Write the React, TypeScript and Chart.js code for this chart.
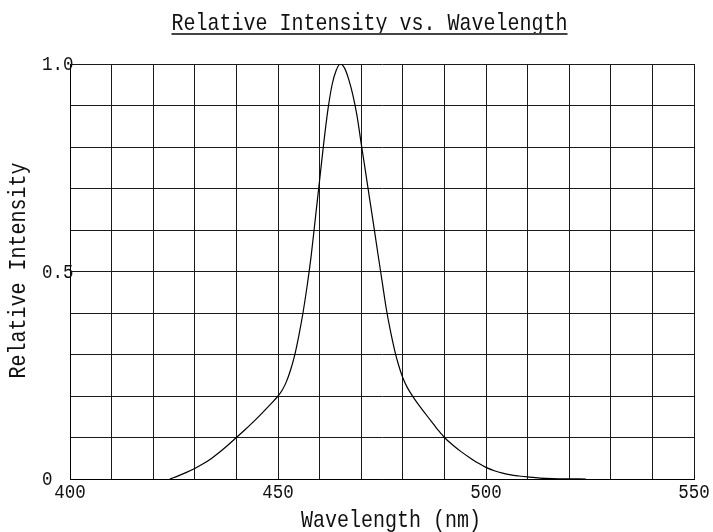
import React, { useEffect, useRef } from 'react';
import { Chart, registerables } from 'chart.js';

Chart.register(...registerables);

const chartTitle = 'Relative Intensity vs. Wavelength';
const xAxisTitle = 'Wavelength (nm)';
const yAxisTitle = 'Relative Intensity';

const wavelengths = [
  424, 426, 428, 430, 432, 434, 436, 438, 440, 442, 444, 446, 448, 450,
  451, 452, 453, 454, 455, 456, 457, 458, 459, 460, 461, 462, 463, 464, 465,
  466, 467, 468, 469, 470, 471, 472, 473, 474, 475, 476, 477, 478, 479, 480,
  481, 482, 483, 484, 485, 486, 487, 488, 489, 490,
  492, 494, 496, 498, 500, 502, 504, 506, 508, 510, 513, 516, 520, 524,
];
const intensities = [
  0, 0.0075, 0.016, 0.0255, 0.0365, 0.0495, 0.065, 0.082, 0.1, 0.118, 0.137, 0.157, 0.178, 0.2,
  0.214, 0.234, 0.262, 0.298, 0.345, 0.4, 0.465, 0.54, 0.63, 0.72, 0.81, 0.89, 0.95, 0.985, 1.0,
  0.99, 0.963, 0.925, 0.875, 0.808, 0.743, 0.677, 0.611, 0.544, 0.478, 0.412, 0.358, 0.312, 0.274, 0.244,
  0.222, 0.205, 0.19, 0.176, 0.163, 0.15, 0.137, 0.124, 0.112, 0.1,
  0.082, 0.066, 0.052, 0.039, 0.028, 0.02, 0.014, 0.0098, 0.0072, 0.005, 0.0022, 0.0008, 0.0002, 0,
];

const xTickValues = [400, 450, 500, 550];
const xTickLabels = ['400', '450', '500', '550'];
const yTickValues = [0, 0.5, 1.0];
const yTickLabels = ['0', '0.5', '1.0'];

const FONT = '"Liberation Mono", "DejaVu Sans Mono", monospace';

function drawStretched(
  ctx: CanvasRenderingContext2D,
  text: string,
  x: number,
  y: number,
  size: number,
  stretch: number,
  align: CanvasTextAlign,
) {
  ctx.save();
  ctx.translate(x, y);
  ctx.scale(1, stretch);
  ctx.font = `${size}px ${FONT}`;
  ctx.textAlign = align;
  ctx.textBaseline = 'alphabetic';
  ctx.fillText(text, 0, 0);
  ctx.restore();
}

const textPlugin = {
  id: 'customText',
  afterDraw(chart: any) {
    const ctx: CanvasRenderingContext2D = chart.ctx;
    const xs = chart.scales.x;
    const ys = chart.scales.y;
    ctx.save();
    ctx.fillStyle = '#111';

    // Title with underline
    const titleCx = 369.5;
    drawStretched(ctx, chartTitle, titleCx, 30, 20, 1.22, 'center');
    ctx.font = `20px ${FONT}`;
    const tw = ctx.measureText(chartTitle).width;
    ctx.strokeStyle = '#444';
    ctx.lineWidth = 2;
    ctx.beginPath();
    ctx.moveTo(titleCx - tw / 2, 34);
    ctx.lineTo(titleCx + tw / 2, 34);
    ctx.stroke();

    // X tick labels
    xTickValues.forEach((v, i) => {
      const px = xs.getPixelForValue(v);
      drawStretched(ctx, xTickLabels[i], px, 498, 17.5, 1.18, 'center');
    });

    // Y tick labels (left aligned)
    yTickValues.forEach((v, i) => {
      const py = ys.getPixelForValue(v);
      drawStretched(ctx, yTickLabels[i], 42, py + 6, 17.5, 1.18, 'left');
    });

    // X axis title
    drawStretched(ctx, xAxisTitle, 391, 527, 20, 1.22, 'center');

    // Y axis title (rotated)
    ctx.save();
    ctx.translate(25, (chart.chartArea.top + chart.chartArea.bottom) / 2 - 1);
    ctx.rotate(-Math.PI / 2);
    drawStretched(ctx, yAxisTitle, 0, 0, 20, 1.22, 'center');
    ctx.restore();

    ctx.restore();
  },
};

export default function App() {
  const canvasRef = useRef<HTMLCanvasElement | null>(null);

  useEffect(() => {
    if (!canvasRef.current) return;
    const data = wavelengths.map((w, i) => ({ x: w, y: intensities[i] }));
    const chart = new Chart(canvasRef.current, {
      type: 'line',
      data: {
        datasets: [
          {
            data,
            borderColor: '#000',
            borderWidth: 1.2,
            pointRadius: 0,
            fill: false,
            cubicInterpolationMode: 'monotone',
          },
        ],
      },
      options: {
        responsive: false,
        animation: false,
        events: [],
        layout: { padding: { left: 70, top: 64, right: 19, bottom: 53 } },
        plugins: {
          legend: { display: false },
          tooltip: { enabled: false },
          title: { display: false },
        },
        scales: {
          x: {
            type: 'linear',
            min: 400,
            max: 550,
            ticks: { display: false, stepSize: 10 },
            grid: { color: '#1a1a1a', lineWidth: 1, drawTicks: false },
            border: { display: true, color: '#000', width: 1 },
          },
          y: {
            type: 'linear',
            min: 0,
            max: 1,
            ticks: { display: false, stepSize: 0.1 },
            grid: { color: '#1a1a1a', lineWidth: 1, drawTicks: false },
            border: { display: true, color: '#000', width: 1 },
          },
        },
      },
      plugins: [textPlugin],
    });
    return () => chart.destroy();
  }, []);

  return (
    <div style={{ position: 'fixed', left: 0, top: 0, width: 713, height: 532, background: '#fff' }}>
      <canvas ref={canvasRef} width={713} height={532} style={{ width: 713, height: 532 }} />
    </div>
  );
}
